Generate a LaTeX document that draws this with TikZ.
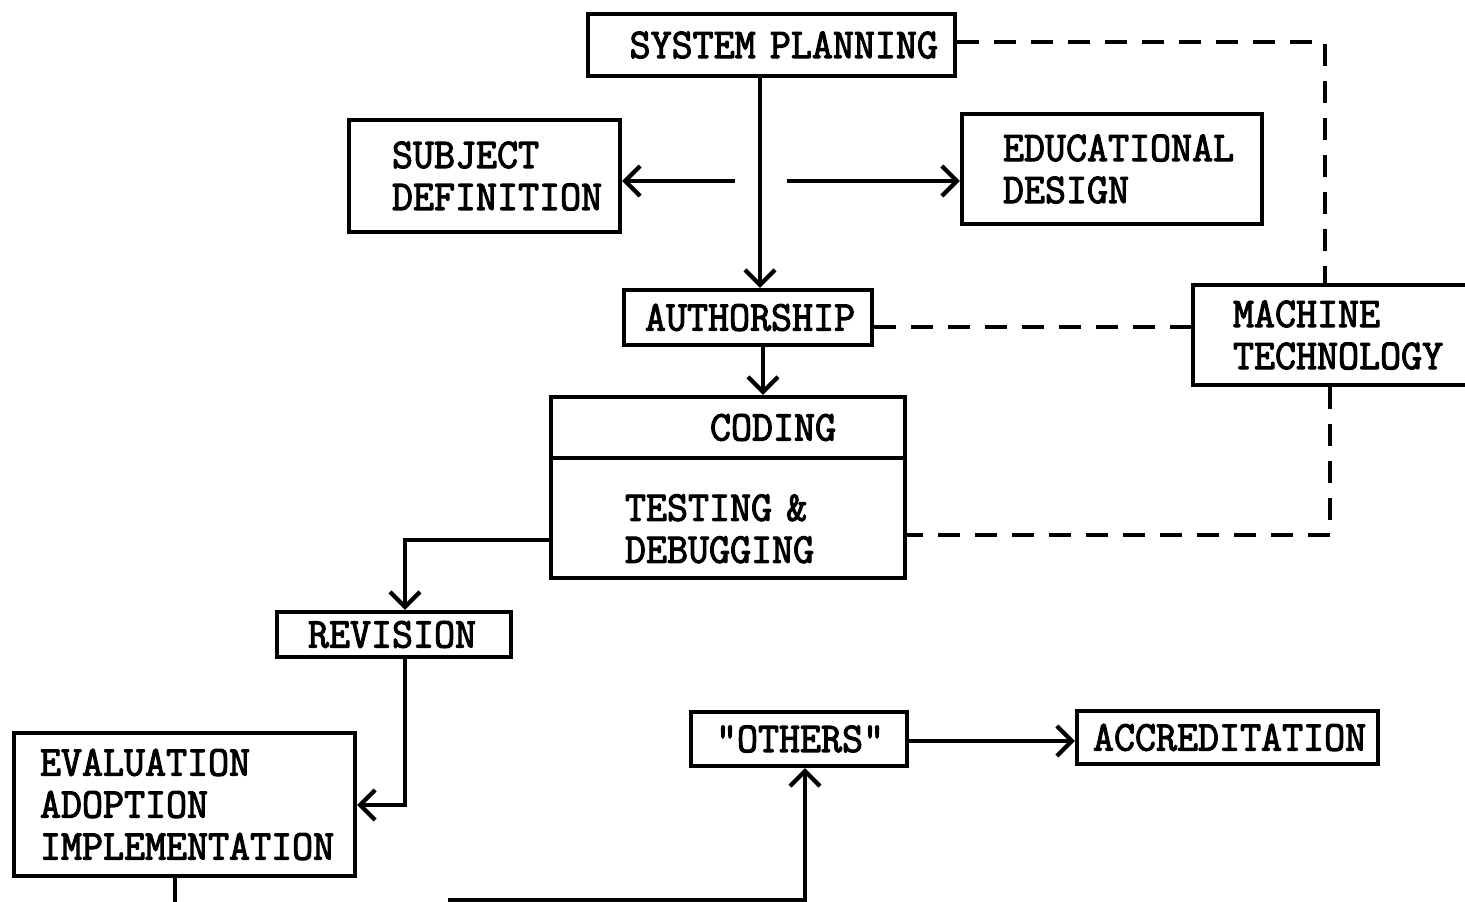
\documentclass[tikz,border=0pt]{standalone}
\usepackage{fontspec}
\usetikzlibrary{arrows.meta}
\newfontfamily\tw[FakeStretch=0.96,FakeBold=2.5]{Latin Modern Mono}
\newcommand\twfont{\tw\fontsize{42.5}{42}\selectfont\hyphenpenalty=10000\relax\exhyphenpenalty=10000\relax}
\tikzset{
  box/.style={draw, line width=4.4pt, rectangle, inner ysep=0pt, align=left, font=\twfont},
  ln/.style={line width=4.2pt},
  arr/.style={line width=4.2pt, -{Straight Barb[length=15pt,width=30pt]}},
  dsh/.style={line width=4.6pt, dash pattern=on 22pt off 15pt}
}
\begin{document}
\begin{tikzpicture}[x=1pt,y=-1pt]
\path[use as bounding box, fill=white] (0,0) rectangle (1465,902);

\node[box, minimum width=367pt, minimum height=62pt, inner xsep=17pt, text width=333pt, align=right] (SP) at (771.5,45) {SYSTEM PLANNING};
\node[box, minimum width=271pt, minimum height=112pt, inner xsep=43pt, text width=185pt] (SD) at (484.5,176) {SUBJECT\\DEFINITION};
\node[box, minimum width=300pt, minimum height=110pt, inner xsep=41pt, text width=218pt] (ED) at (1112,169) {EDUCATIONAL\\DESIGN};
\node[box, minimum width=248pt, minimum height=55pt, inner xsep=21pt, text width=206pt] (AU) at (748,317.5) {AUTHORSHIP};
\node[box, minimum width=287pt, minimum height=100pt, inner xsep=40pt, text width=207pt] (MT) at (1336.5,335) {MACHINE\\TECHNOLOGY};
\node[box, minimum width=354pt, minimum height=61pt, inner xsep=159pt, text width=36pt] (CO) at (728,427.5) {CODING};
\node[box, minimum width=354pt, minimum height=120pt, inner xsep=74pt, text width=206pt] (TD) at (728,518) {\rule{0pt}{48pt}TESTING \&\\DEBUGGING};
\node[box, minimum width=234pt, minimum height=45pt, inner xsep=31pt, text width=172pt] (REV) at (394,634.5) {REVISION};
\node[box, minimum width=341pt, minimum height=143pt, inner xsep=26pt, text width=289pt] (EVAL) at (184.5,804.5) {EVALUATION\\ADOPTION\\IMPLEMENTATION};
\node[box, minimum width=216pt, minimum height=54pt, inner xsep=25pt, text width=166pt] (OTH) at (799,739) {"OTHERS"};
\node[box, minimum width=301pt, minimum height=53pt, inner xsep=16pt, text width=269pt] (ACC) at (1227.5,737.5) {ACCREDITATION};

\coordinate (c760) at (760,0);
\coordinate (c763) at (763,0);
\coordinate (hl) at (735,181);
\coordinate (hr) at (787,181);
\coordinate (d1) at (1325,42);
\coordinate (d2) at (0,327);
\coordinate (d3) at (1330,535);
\coordinate (r1) at (405,540);
\coordinate (r2) at (405,805);
\coordinate (e1) at (175,904);
\coordinate (b1) at (448,900);
\coordinate (b2) at (805,900);
\coordinate (a1) at (0,741);

\draw[arr] (SP.south -| c760) -- (AU.north -| c760);
\draw[arr] (hl) -- (SD.east |- hl);
\draw[arr] (hr) -- (ED.west |- hr);
\draw[dsh] (SP.east |- d1) -- (d1) -- (MT.north -| d1);
\draw[dsh] (AU.east |- d2) -- (MT.west |- d2);
\draw[dsh] (MT.south -| d3) -- (d3) -- (TD.east |- d3);
\draw[arr] (AU.south -| c763) -- (CO.north -| c763);
\draw[arr] (TD.west |- r1) -- (r1) -- (REV.north -| r1);
\draw[arr] (REV.south -| r2) -- (r2) -- (EVAL.east |- r2);
\draw[ln] (EVAL.south -| e1) -- (e1);
\draw[arr] (b1) -- (b2) -- (OTH.south -| b2);
\draw[arr] (OTH.east |- a1) -- (ACC.west |- a1);
\end{tikzpicture}
\end{document}
